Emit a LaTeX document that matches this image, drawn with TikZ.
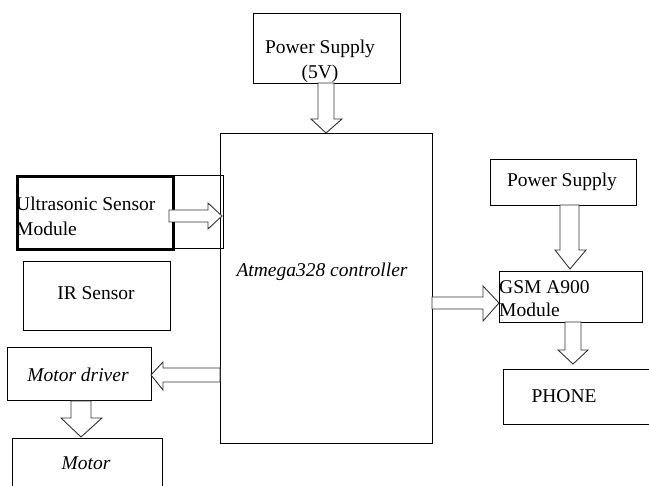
\documentclass[tikz,border=0pt]{standalone}
\usepackage{fontspec}
\setmainfont{Liberation Serif}
\begin{document}
\begin{tikzpicture}[x=1pt,y=-1pt,
  box/.style={draw, line width=1pt, inner sep=0pt, anchor=north west},
  lbl/.style={font=\fontsize{19.5}{25}\selectfont, inner sep=0pt},
  barrow/.style={draw=black!80, line width=0.9pt, fill=white, line join=miter}]
\useasboundingbox (0,0) rectangle (649,486);

% boxes
\node[box, minimum width=147pt, minimum height=70pt] (ps5) at (253,13) {};
\node[box, minimum width=212pt, minimum height=310pt] (ctrl) at (220,133) {};
\node[box, minimum width=207pt, minimum height=73pt] (usouter) at (16,175) {};
\node[box, line width=2.6pt, minimum width=156pt, minimum height=73pt] (us) at (16,175) {};
\node[box, minimum width=147pt, minimum height=69pt] (ir) at (23,261) {};
\node[box, minimum width=144pt, minimum height=53pt] (md) at (7,347) {};
\node[box, minimum width=150pt, minimum height=70pt] (mot) at (12,438) {};
\node[box, minimum width=146pt, minimum height=46pt] (ps) at (490,159) {};
\node[box, minimum width=143pt, minimum height=51pt] (gsm) at (499,271) {};
\node[box, minimum width=146pt, minimum height=55pt] (ph) at (503,369) {};

% labels
\node[lbl, align=center] (tps5) at (320,61) {Power Supply\\(5V)};
\node[lbl, font=\fontsize{19.5}{25}\selectfont\itshape] (tctrl) at (322,272) {Atmega328 controller};
\node[lbl, align=left, anchor=west] (tus) at (16,216) {Ultrasonic Sensor\\Module};
\node[lbl] (tir) at (96,293) {IR Sensor};
\node[lbl, font=\fontsize{19.5}{25}\selectfont\itshape] (tmd) at (78,375) {Motor driver};
\node[lbl, font=\fontsize{19.5}{25}\selectfont\itshape] (tmot) at (86,463) {Motor};
\node[lbl] (tps) at (562,182) {Power Supply};
\node[lbl, align=left, anchor=west, font=\fontsize{19.5}{23}\selectfont] (tgsm) at (499,299) {GSM A900\\Module};
\node[lbl] (tph) at (564,396) {PHONE};

% block arrows
% power supply 5V -> controller
\draw[barrow] (318,83) -- (334,83) -- (334,119) -- (342,119) -- (326,133) -- (311,119) -- (318,119) -- cycle;
% power supply -> GSM
\draw[barrow] (560,205) -- (579,205) -- (579,250) -- (586,250) -- (570,269) -- (555,250) -- (560,250) -- cycle;
% GSM -> phone
\draw[barrow] (565,322) -- (581,322) -- (581,350) -- (588,350) -- (573,364) -- (558,350) -- (565,350) -- cycle;
% motor driver -> motor
\draw[barrow] (71,401) -- (91,401) -- (91,418) -- (102,418) -- (81,437) -- (61,418) -- (71,418) -- cycle;
% controller -> GSM
\draw[barrow] (432,297) -- (483,297) -- (483,286) -- (499,303) -- (483,321) -- (483,309) -- (432,309) -- cycle;
% controller -> motor driver
\draw[barrow] (220,368) -- (163,368) -- (163,362) -- (151,375) -- (163,390) -- (163,382) -- (220,382) -- cycle;
% ultrasonic -> controller
\draw[barrow] (169,210) -- (208,210) -- (208,203) -- (222,216) -- (208,229) -- (208,222) -- (169,222) -- cycle;
\end{tikzpicture}
\end{document}
